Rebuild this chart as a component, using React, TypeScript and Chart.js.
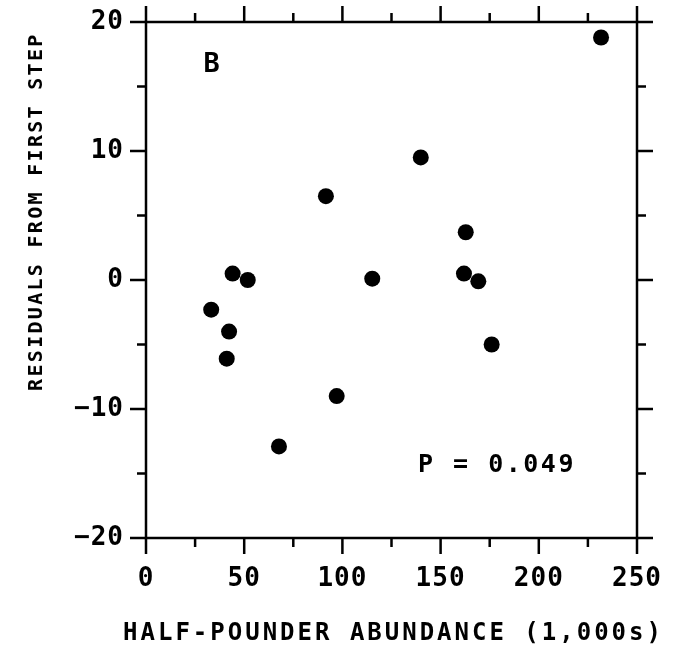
import React, { useEffect, useRef } from 'react';
import { Chart, registerables } from 'chart.js';

Chart.register(...registerables);

// Data
const abundance = [231.7, 139.9, 91.6, 162.8, 44.1, 51.8, 115.2, 161.9, 169.2, 33.2, 42.3, 41.1, 176.0, 97.1, 67.7];
const residuals = [18.8, 9.5, 6.5, 3.7, 0.5, 0.0, 0.1, 0.5, -0.1, -2.3, -4.0, -6.1, -5.0, -9.0, -12.9];

const xMin = 0;
const xMax = 250;
const xStep = 50;
const xMinorStep = 25;
const yMin = -20;
const yMax = 20;
const yStep = 10;
const yMinorStep = 5;

const xTitle = 'HALF-POUNDER ABUNDANCE (1,000s)';
const yTitle = 'RESIDUALS FROM FIRST STEP';
const panelLabel = 'B';
const panelLabelAt = [33.4, 16.7];
const pLabel = 'P = 0.049';
const pLabelAt = [178.7, -14.4];

const FONT = '"DejaVu Sans Mono", monospace';

const zeroPad = (s: any) => {
  s.paddingTop = 0;
  s.paddingBottom = 0;
  s.paddingLeft = 0;
  s.paddingRight = 0;
};

const framePlugin = {
  id: 'framePlugin',
  beforeDraw(chart: any) {
    chart.ctx.letterSpacing = '1px';
  },
  afterDraw(chart: any) {
    const { ctx, chartArea, scales } = chart;
    const xs = scales.x;
    const ys = scales.y;
    const { left, right, top, bottom } = chartArea;
    ctx.save();
    ctx.strokeStyle = '#000';
    ctx.lineWidth = 2.5;
    ctx.strokeRect(left, top, right - left, bottom - top);
    const major = 16;
    const minor = 9;
    ctx.beginPath();
    for (let v = xMin; v <= xMax + 1e-9; v += xMinorStep) {
      const px = xs.getPixelForValue(v);
      const len = Math.abs(v % xStep) < 1e-9 ? major : minor;
      ctx.moveTo(px, bottom);
      ctx.lineTo(px, bottom + len);
      ctx.moveTo(px, top);
      ctx.lineTo(px, top - len);
    }
    for (let v = yMin; v <= yMax + 1e-9; v += yMinorStep) {
      const py = ys.getPixelForValue(v);
      const len = Math.abs(v % yStep) < 1e-9 ? major : minor;
      ctx.moveTo(left, py);
      ctx.lineTo(left - len, py);
      ctx.moveTo(right, py);
      ctx.lineTo(right + len, py);
    }
    ctx.stroke();

    ctx.fillStyle = '#000';
    ctx.textAlign = 'center';
    ctx.textBaseline = 'middle';

    // panel label and P value
    ctx.letterSpacing = '0px';
    ctx.font = `bold 27px ${FONT}`;
    ctx.fillText(panelLabel, xs.getPixelForValue(panelLabelAt[0]), ys.getPixelForValue(panelLabelAt[1]));
    ctx.letterSpacing = '2.5px';
    ctx.font = `bold 25px ${FONT}`;
    ctx.fillText(pLabel, xs.getPixelForValue(pLabelAt[0]), ys.getPixelForValue(pLabelAt[1]));

    // x title
    ctx.letterSpacing = '3px';
    ctx.font = `bold 24px ${FONT}`;
    ctx.fillText(xTitle, (left + right) / 2 + 2, bottom + 96);

    // y title
    ctx.letterSpacing = '2.3px';
    ctx.font = `bold 20px ${FONT}`;
    ctx.translate(37, ys.getPixelForValue(5.3));
    ctx.rotate(-Math.PI / 2);
    ctx.fillText(yTitle, 0, 0);
    ctx.restore();
  },
};

export default function App() {
  const ref = useRef<HTMLCanvasElement | null>(null);
  useEffect(() => {
    if (!ref.current) return;
    const chart = new Chart(ref.current, {
      type: 'scatter',
      data: {
        datasets: [
          {
            data: abundance.map((x, i) => ({ x, y: residuals[i] })),
            backgroundColor: '#000',
            borderColor: '#000',
            borderWidth: 0,
            pointRadius: 8,
            pointHoverRadius: 8,
          },
        ],
      },
      options: {
        responsive: false,
        animation: false,
        events: [],
        layout: { padding: { top: 22, right: 44, left: 0, bottom: 0 } },
        plugins: { legend: { display: false }, tooltip: { enabled: false }, title: { display: false } },
        scales: {
          x: {
            type: 'linear',
            min: xMin,
            max: xMax,
            border: { display: false },
            grid: { display: false, drawTicks: false },
            ticks: {
              stepSize: xStep,
              padding: 26,
              color: '#000',
              font: { family: FONT, size: 26, weight: 'bold' },
              maxRotation: 0,
            },
            afterFit: (s: any) => { s.height = 114; zeroPad(s); },
          },
          y: {
            type: 'linear',
            min: yMin,
            max: yMax,
            border: { display: false },
            grid: { display: false, drawTicks: false },
            ticks: {
              stepSize: yStep,
              padding: 22,
              color: '#000',
              font: { family: FONT, size: 26, weight: 'bold' },
              callback: (v: any) => (v < 0 ? '\u2212' + Math.abs(v) : String(v)),
            },
            afterFit: (s: any) => { s.width = 146; zeroPad(s); },
          },
        },
      },
      plugins: [framePlugin],
    });
    return () => chart.destroy();
  }, []);
  return (
    <div style={{ position: 'absolute', left: 0, top: 0, width: 681, height: 652, background: '#fff' }}>
      <canvas ref={ref} width={681} height={652} style={{ display: 'block' }} />
    </div>
  );
}
